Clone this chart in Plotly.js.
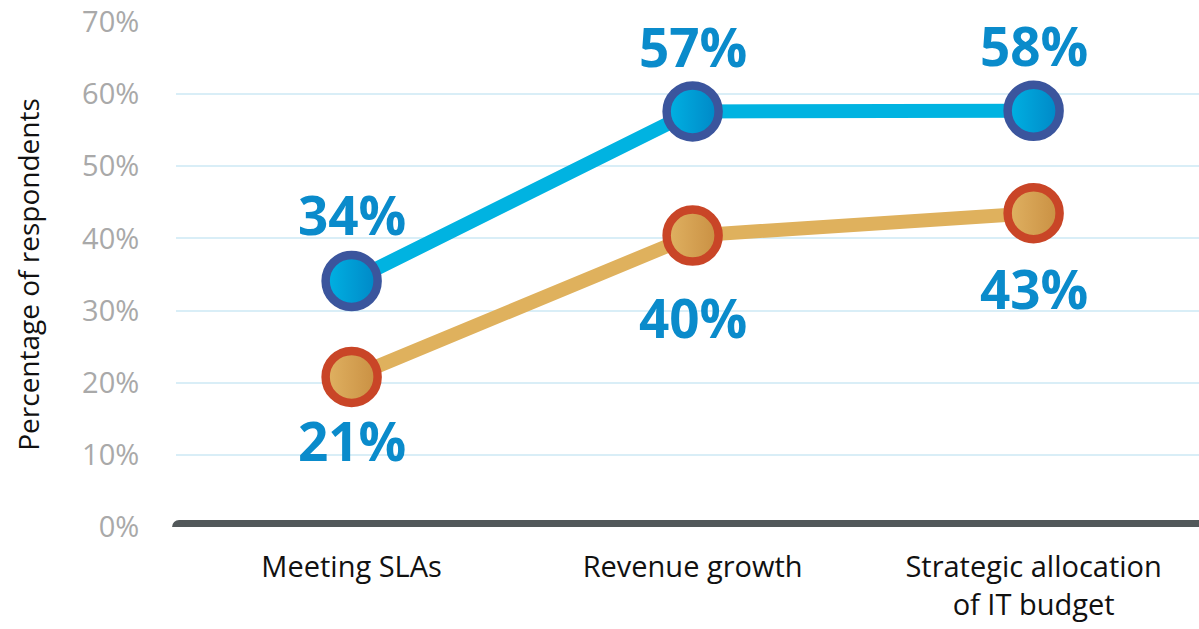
<!DOCTYPE html>
<html>
<head>
<meta charset="utf-8">
<script src="https://cdn.plot.ly/plotly-3.0.1.min.js"></script>
<style>html,body{margin:0;padding:0;background:#fff;}#chart{width:1199px;height:629px;}</style>
</head>
<body>
<div id="chart"></div>
<script>
var categories = ["Meeting SLAs", "Revenue growth", "Strategic allocation<br>of IT budget"];
var blueValues = [34.1, 57.6, 57.7];
var orangeValues = [20.8, 40.4, 43.5];
var blueLabels = ["34%", "57%", "58%"];
var orangeLabels = ["21%", "40%", "43%"];
var blueShift = [66, 65, 65];
var orangeShift = [-64, -82, -75];
var yTicks = [0, 10, 20, 30, 40, 50, 60, 70];

var FONT = "Open Sans, Noto Sans, sans-serif";
var labelColor = "#0a8bcb";

var traces = [
  {
    x: categories, y: orangeValues, type: "scatter", mode: "lines+markers",
    line: {color: "#dfb15d", width: 14},
    marker: {size: 52, color: "#e0b262", gradient: {type: "horizontal", color: "#c98f42"},
             line: {color: "#c94527", width: 8.5}},
    hoverinfo: "none", showlegend: false
  },
  {
    x: categories, y: blueValues, type: "scatter", mode: "lines+markers",
    line: {color: "#00b3e1", width: 14},
    marker: {size: 52, color: "#00b2e3", gradient: {type: "horizontal", color: "#0087c6"},
             line: {color: "#3b559d", width: 8.5}},
    hoverinfo: "none", showlegend: false
  }
];

var annotations = [];
for (var i = 0; i < categories.length; i++) {
  annotations.push({x: categories[i], y: blueValues[i], xref: "x", yref: "y", text: blueLabels[i],
    showarrow: false, yshift: blueShift[i], font: {family: FONT, size: 53, color: labelColor, weight: 700}});
  annotations.push({x: categories[i], y: orangeValues[i], xref: "x", yref: "y", text: orangeLabels[i],
    showarrow: false, yshift: orangeShift[i], font: {family: FONT, size: 53, color: labelColor, weight: 700}});
}

var layout = {
  width: 1199, height: 629,
  margin: {l: 176, r: 0, t: 22, b: 102},
  paper_bgcolor: "#ffffff", plot_bgcolor: "#ffffff",
  font: {family: FONT},
  xaxis: {
    type: "category", range: [-0.515, 2.485],
    showgrid: false, zeroline: false, showline: false,
    ticks: "outside", ticklen: 14, tickcolor: "rgba(0,0,0,0)",
    tickfont: {family: FONT, size: 29, color: "#111111"},
    fixedrange: true
  },
  yaxis: {
    range: [0, 70], tickvals: yTicks, ticktext: yTicks.map(function(v){return v + "%";}),
    showgrid: true, gridcolor: "#d9eef7", gridwidth: 2,
    zeroline: false, showline: false,
    ticks: "outside", ticklen: 30, tickcolor: "rgba(0,0,0,0)",
    tickfont: {family: FONT, size: 29, color: "#a9a9a9"},
    title: {text: "Percentage of respondents", font: {family: FONT, size: 28, color: "#111111"}, standoff: 34},
    fixedrange: true
  },
  shapes: [
    {type: "line", xref: "paper", yref: "y", x0: 0.003, x1: 1.02, y0: 0, y1: 0,
     line: {color: "#52585a", width: 14}},
    {type: "circle", xref: "paper", yref: "y", xsizemode: "pixel", ysizemode: "pixel",
     xanchor: 0.003, yanchor: 0, x0: -7, x1: 7, y0: -7, y1: 7,
     fillcolor: "#52585a", line: {width: 0}}
  ],
  annotations: annotations
};

Plotly.newPlot("chart", traces, layout, {displayModeBar: false, staticPlot: true});
</script>
</body>
</html>
